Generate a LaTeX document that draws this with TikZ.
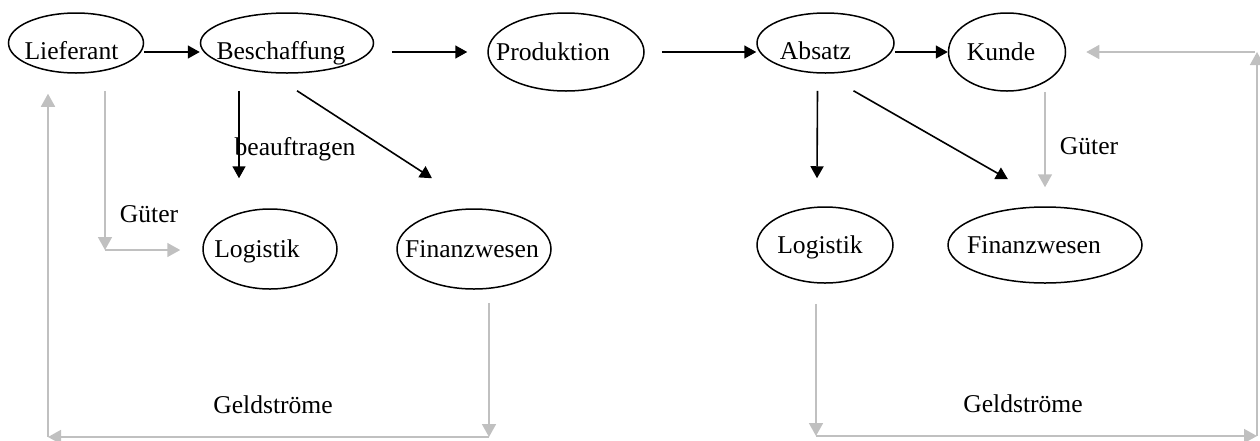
\documentclass[tikz,border=0pt]{standalone}
\usepackage{fontspec}
\setmainfont{Liberation Serif}
\usetikzlibrary{shapes.geometric, arrows.meta}
\definecolor{FlowGray}{RGB}{192,192,192}
% text inside an ellipse, does not widen it; optional kern moves it left
\newcommand{\inell}[2][0pt]{\makebox[0pt]{#2\hspace*{#1}}}

\begin{document}
\begin{tikzpicture}[x=1pt, y=-1pt,
        unit/.style={
            draw, ellipse, line width=1.5pt, inner sep=0pt,
            text height=17pt, text depth=0pt, font=\fontsize{25.6}{30}\selectfont
        },
        flat/.style={text height=32pt},
        flow/.style={-{Triangle[length=12pt,width=13pt]}, line width=1.6pt},
        money/.style={-{Triangle[length=13pt,width=14pt]}, line width=1.6pt, FlowGray},
        tag/.style={font=\fontsize{25.6}{30}\selectfont, anchor=base, inner sep=0pt}
    ]
    \useasboundingbox (0,0) rectangle (1260,440);

    % top row
    \node[unit, flat, minimum width=135pt, minimum height=60pt] (lief) at (76,43) {\inell[9pt]{Lieferant}};
    \node[unit, flat, minimum width=173pt, minimum height=60pt] (besch) at (287,43) {\inell[12pt]{Beschaffung}};
    \node[unit, minimum width=156pt, minimum height=78pt] (prod) at (566,52) {\inell[26pt]{Produktion}};
    \node[unit, flat, minimum width=137pt, minimum height=60pt] (absatz) at (825.5,43) {\inell[20pt]{Absatz}};
    \node[unit, minimum width=117pt, minimum height=78pt] (kunde) at (1007,52) {\inell[12pt]{Kunde}};

    % bottom row
    \node[unit, minimum width=134pt, minimum height=80pt] (logL) at (270,249) {\inell[26pt]{Logistik}};
    \node[unit, minimum width=154pt, minimum height=80pt] (finL) at (474,249) {\inell[4pt]{Finanzwesen}};
    \node[unit, minimum width=136pt, minimum height=76pt] (logR) at (825,245) {\inell[10pt]{Logistik}};
    \node[unit, minimum width=194pt, minimum height=76pt] (finR) at (1045,245) {\inell[22pt]{Finanzwesen}};

    % corners of the gray paths
    \coordinate (knickL) at (105,250);
    \coordinate (geldBR) at (489,437);
    \coordinate (geldBL) at (48,437);
    \coordinate (geldRB) at (816,436);
    \coordinate (geldRR) at (1257,436);
    \coordinate (geldRT) at (1257,52);

    % main chain
    \draw[flow] (lief.east |- prod.center) -- (besch.west |- prod.center);
    \draw[flow, shorten <=18pt, shorten >=20pt] (besch.east |- prod.center) -- (prod.west);
    \draw[flow, shorten <=17pt] (prod.east) -- (absatz.west |- prod.center);
    \draw[flow] (absatz.east |- kunde.center) -- (kunde.west);

    % Beschaffung
    \draw[flow, shorten <=17pt, shorten >=30pt] ([xshift=-48pt]besch.south) -- ([xshift=-48pt]besch.south |- logL.north);
    \node[tag] (auftrag) at (295,155) {beauftragen};
    \draw[flow] ([xshift=10pt,yshift=-17pt]besch.south) -- ([xshift=-42pt,yshift=30pt]finL.north);

    % Absatz
    \draw[flow] ([xshift=-8pt,yshift=-17pt]absatz.south) -- ([xshift=-8pt,yshift=28pt]logR.north);
    \draw[flow] ([xshift=28pt,yshift=-17pt]absatz.south) -- ([xshift=-37pt,yshift=27pt]finR.north);

    % goods
    \draw[money] ([xshift=29pt,yshift=-17pt]lief.south) -- (knickL);
    \draw[money, shorten >=22pt] (knickL) -- (logL.west |- knickL);
    \node[tag] (gueterL) at (149,222) {Güter};
    \draw[money, shorten >=19pt] (kunde.south -| finR.north) -- (finR.north);
    \node[tag] (gueterR) at (1089,154) {Güter};

    % money, left
    \draw[money] ([xshift=15pt,yshift=-13pt]finL.south) -- (geldBR);
    \draw[money] (geldBR) -- (geldBL);
    \draw[money] (geldBL) -- ([xshift=-28pt,yshift=-20pt]lief.south);
    \node[tag] (geldL) at (273,413) {Geldströme};

    % money, right
    \draw[money] ([xshift=-9pt,yshift=-20pt]logR.south) -- (geldRB);
    \draw[money] (geldRB) -- (geldRR);
    \draw[money] (geldRR) -- (geldRT);
    \draw[money] ([xshift=-2pt]geldRT) -- ([xshift=20pt]kunde.east);
    \node[tag] (geldR) at (1023,412) {Geldströme};
\end{tikzpicture}
\end{document}
